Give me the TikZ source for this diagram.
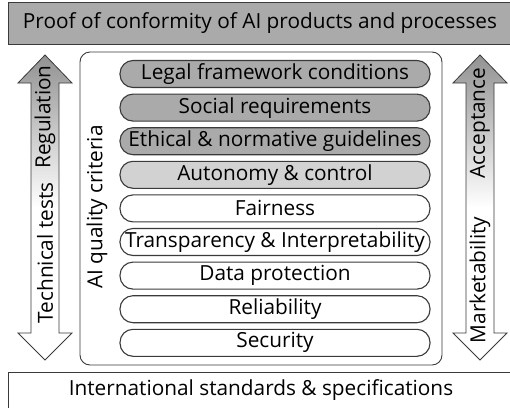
\documentclass[tikz,border=0pt]{standalone}
\usepackage{fontspec}
\setmainfont{Open Sans}
\usepackage{xcolor}
\usepackage{tikz}
\usetikzlibrary{calc,positioning}

\definecolor{bargray}{HTML}{AAAAAA}
\definecolor{lightgray}{HTML}{D2D2D2}
\definecolor{linegray}{HTML}{3A3A3A}
\definecolor{arrowgray}{HTML}{929292}

\newcommand{\bigfont}{\fontsize{20.8}{24}\selectfont}

\tikzset{
  crit/.style={draw=linegray, line width=1.1pt, rectangle, rounded corners=13pt,
    minimum width=310pt, minimum height=27pt, inner sep=0pt, font=\bigfont},
  critdark/.style={crit, fill=bargray},
  critlight/.style={crit, fill=lightgray},
  critwhite/.style={crit, fill=white},
  sidetext/.style={rotate=90, inner sep=0pt, font=\bigfont}
}

\begin{document}
\begin{tikzpicture}[x=1pt,y=-1pt]
\useasboundingbox (0,0) rectangle (510,407);

% top and bottom bars
\draw[draw=linegray, fill=bargray, line width=0.9pt] (8,2) rectangle (512,44);
\node[font=\bigfont] (proof) at (260,23) {Proof of conformity of AI products and processes};

\draw[draw=linegray, line width=0.9pt] (8,372) rectangle (512,410);
\node[font=\bigfont] (standards) at (261,390) {International standards \& specifications};

% double arrows
\draw[draw=linegray, line width=0.8pt, top color=arrowgray, bottom color=white, middle color=white]
  (45,55) -- (72,83) -- (59,83) -- (59,333) -- (72,333) -- (45,360)
  -- (18,333) -- (31,333) -- (31,83) -- (18,83) -- cycle;
\node[sidetext] (regulation) at (45,117) {Regulation};
\node[sidetext] (techtests) at (45,253) {Technical tests};

\draw[draw=linegray, line width=0.8pt, top color=arrowgray, bottom color=white, middle color=white]
  (480,55) -- (507,83) -- (494,83) -- (494,333) -- (507,333) -- (480,360)
  -- (453,333) -- (466,333) -- (466,83) -- (453,83) -- cycle;
\node[sidetext] (acceptance) at (480,123) {Acceptance};
\node[sidetext] (market) at (480,280) {Marketability};

% quality criteria
\draw[draw=linegray, line width=0.9pt, rounded corners=10pt] (80,52) rectangle (442,365);
\node[sidetext] (quality) at (97,207) {AI quality criteria};

\node[critdark] (legal) at (275,74) {Legal framework conditions};
\node[critdark] (social) at (275,107.6) {Social requirements};
\node[critdark] (ethical) at (275,141.2) {Ethical \& normative guidelines};
\node[critlight] (autonomy) at (275,174.8) {Autonomy \& control};
\node[critwhite] (fairness) at (275,208.4) {Fairness};
\node[critwhite] (transparency) at (275,242) {Transparency \& Interpretability};
\node[critwhite] (dataprot) at (275,275.6) {Data protection};
\node[critwhite] (reliability) at (275,309.2) {Reliability};
\node[critwhite] (security) at (275,342.8) {Security};

\end{tikzpicture}
\end{document}
